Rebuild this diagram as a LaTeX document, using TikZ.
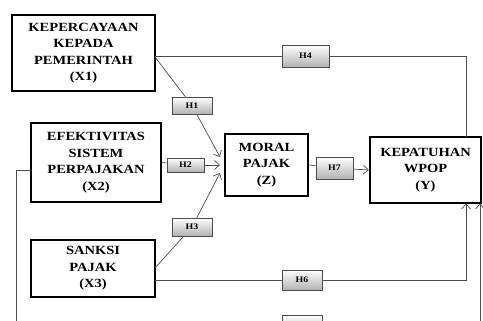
\documentclass[tikz,border=0pt]{standalone}
\usepackage{fontspec}
\setmainfont{Liberation Serif}[FakeStretch=1.16]
\usetikzlibrary{arrows.meta,shadows}
\begin{document}
\begin{tikzpicture}[x=1pt,y=-1pt,
  varbox/.style={draw=black,line width=2.3pt,fill=white,align=center,inner sep=0pt,
    font=\bfseries\fontsize{12.5}{16.5}\selectfont},
  hbox/.style={draw=black!70,line width=0.6pt,top color=white,bottom color=black!30,
    inner sep=0pt,font=\bfseries\fontsize{8.5}{10}\selectfont,
    drop shadow={shadow xshift=0.8pt,shadow yshift=-0.8pt,opacity=0.45}},
  conn/.style={draw=black!70,line width=0.7pt},
  arr/.style={conn,-{Straight Barb[length=5pt,width=9pt]}}]
\useasboundingbox (0,0) rectangle (483,321);
\begin{scope}
\clip (0,0) rectangle (483,321);
% variable boxes
\node[varbox,minimum width=143pt,minimum height=76pt] (x1) at (83.5,53) {KEPERCAYAAN\\KEPADA\\PEMERINTAH\\(X1)};
\node[varbox,minimum width=130pt,minimum height=79pt] (x2) at (96,162.5) {EFEKTIVITAS\\SISTEM\\PERPAJAKAN\\(X2)};
\node[varbox,minimum width=124pt,minimum height=57pt] (x3) at (93,268.5) {SANKSI\\PAJAK\\(X3)};
\node[varbox,minimum width=83pt,minimum height=62pt] (z) at (266.5,165) {MORAL\\PAJAK\\(Z)};
\node[varbox,minimum width=111pt,minimum height=66pt] (y) at (425.5,170) {KEPATUHAN\\WPOP\\(Y)};
% hypothesis boxes
\node[hbox,minimum width=47pt,minimum height=22pt] (h4) at (305.5,56) {H4};
\node[hbox,minimum width=40pt,minimum height=17pt] (h1) at (192,105.5) {H1};
\node[hbox,minimum width=37pt,minimum height=14pt] (h2) at (185.5,165) {H2};
\node[hbox,minimum width=40pt,minimum height=18pt] (h3) at (192,227) {H3};
\node[hbox,minimum width=37pt,minimum height=22pt] (h7) at (334.5,168) {H7};
\node[hbox,minimum width=40pt,minimum height=20pt] (h6) at (302,280) {H6};
\node[hbox,minimum width=40pt,minimum height=20pt] (h5) at (302,325) {H5};
% coordinates
\coordinate (a1) at (155,57);
\coordinate (t1) at (220,157);
\coordinate (t2) at (220,165);
\coordinate (a3) at (155,268);
\coordinate (t3) at (220,173);
\coordinate (a4) at (155,56);
\coordinate (c4) at (466,56);
\coordinate (y4) at (466,137);
\coordinate (a6) at (155,280);
\coordinate (c6) at (466,280);
\coordinate (y6) at (466,203.5);
\coordinate (b5) at (480,321);
\coordinate (y5) at (480,203.5);
\coordinate (l0) at (16,321);
\coordinate (l1) at (16,170);
\coordinate (l2) at (31,170);
% connectors
\draw[conn] (a4) -- (h4);
\draw[conn] (h4) -- (c4) -- (y4);
\draw[conn] (a1) -- (h1);
\draw[arr] (h1) -- (t1);
\draw[conn] (x2.east) -- (h2);
\draw[arr] (h2) -- (t2);
\draw[conn] (a3) -- (h3);
\draw[arr] (h3) -- (t3);
\draw[conn] (z.east) -- (h7);
\draw[arr] (h7) -- (y.west);
\draw[conn] (a6) -- (h6);
\draw[arr] (h6) -- (c6) -- (y6);
\draw[arr] (b5) -- (y5);
\draw[conn] (l0) -- (l1) -- (l2);
\end{scope}
\end{tikzpicture}
\end{document}
